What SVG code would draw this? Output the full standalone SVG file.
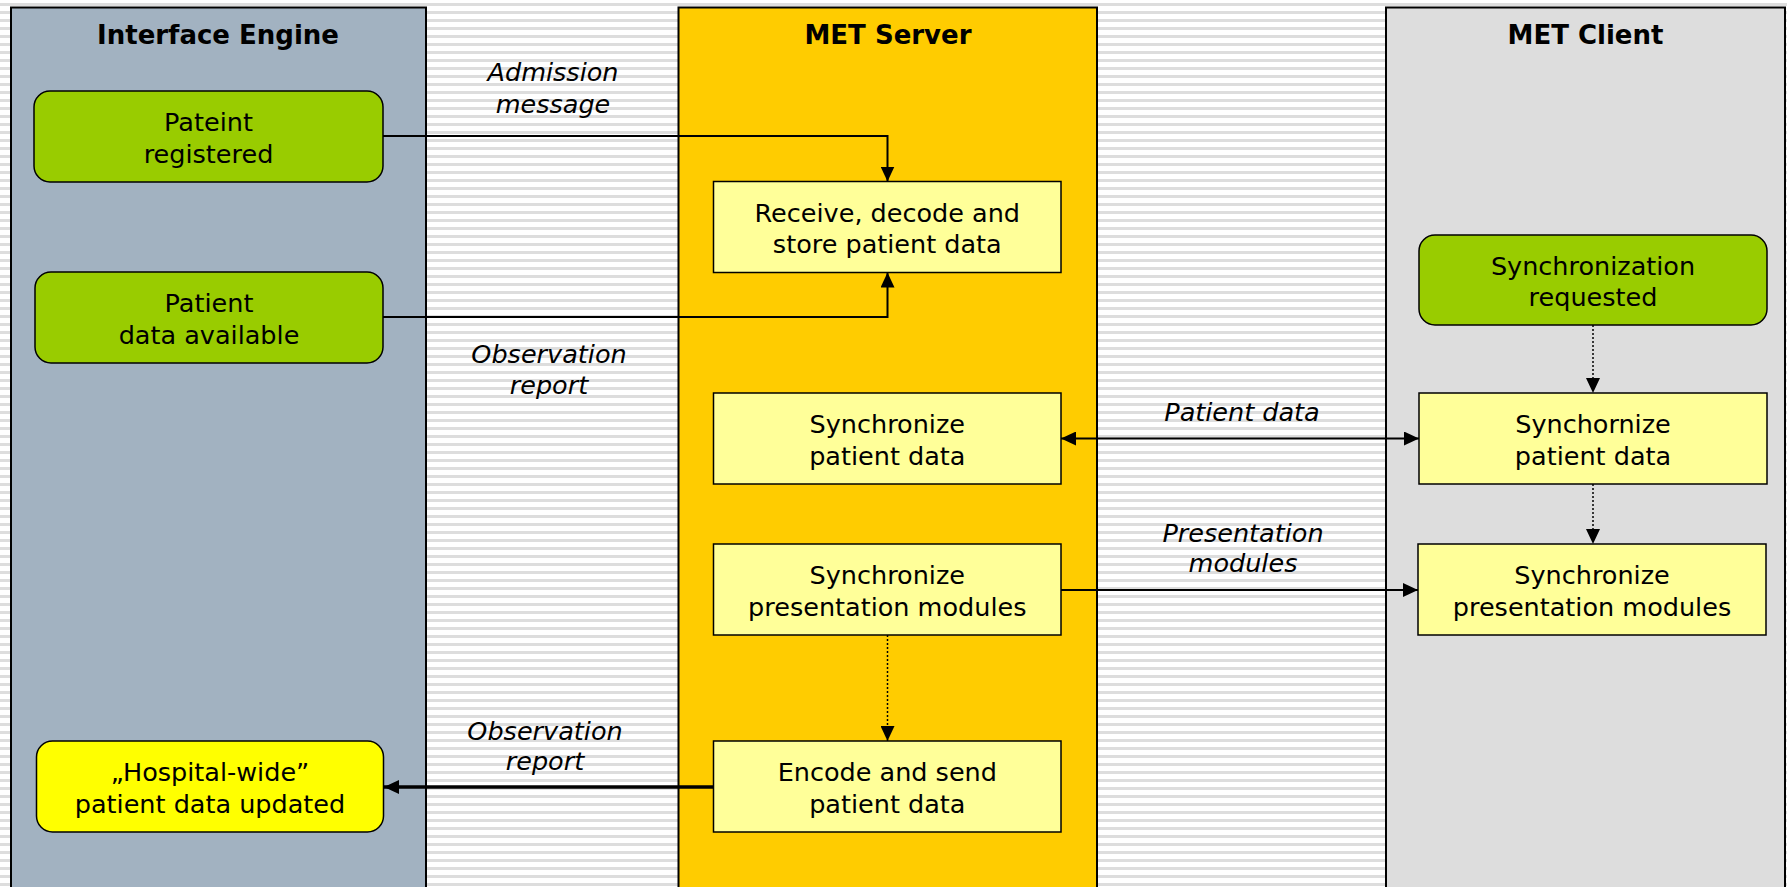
<svg xmlns="http://www.w3.org/2000/svg" width="1787" height="887" viewBox="0 0 1787 887">
<defs>
<pattern id="stripes" x="0" y="0" width="8" height="8" patternUnits="userSpaceOnUse">
<rect x="0" y="0" width="8" height="8" fill="#FFFFFF"/>
<rect x="0" y="3" width="8" height="3" fill="#DDDDDD"/>
</pattern>
<marker id="arr" viewBox="0 0 15 14" refX="15" refY="7" markerWidth="15" markerHeight="14" markerUnits="userSpaceOnUse" orient="auto-start-reverse">
<path d="M0,0 L15,7 L0,14 Z" fill="#000"/>
</marker>
</defs>
<style>
.lane{stroke:#000;stroke-width:2}
.title{font-family:"DejaVu Sans",Verdana,sans-serif;font-weight:bold;font-size:26px;text-anchor:middle;fill:#000}
.t{font-family:"DejaVu Sans",Verdana,sans-serif;font-size:25.5px;text-anchor:middle;fill:#000}
.lbl{font-family:"DejaVu Sans",Verdana,sans-serif;font-style:italic;font-size:25.5px;text-anchor:middle;fill:#000}
.green{fill:#99CC00;stroke:#000;stroke-width:1.5}
.box{fill:#FFFF99;stroke:#000;stroke-width:1.5}
.hosp{fill:#FFFF00;stroke:#000;stroke-width:1.5}
.c{fill:none;stroke:#000;stroke-width:2}
.d{fill:none;stroke:#000;stroke-width:1.5;stroke-dasharray:2,2}
.thick{fill:none;stroke:#000;stroke-width:3.5}
</style>
<rect x="0" y="0" width="1787" height="887" fill="url(#stripes)"/>
<g id="lane-interface">
<rect class="lane" x="11" y="7.5" width="415" height="890" fill="#A2B2C1"/>
<text class="title" x="218" y="44">Interface Engine</text>
</g>
<g id="lane-server">
<rect class="lane" x="678.5" y="7.5" width="418.5" height="890" fill="#FFCC00"/>
<text class="title" x="888" y="44">MET Server</text>
</g>
<g id="lane-client">
<rect class="lane" x="1386" y="7.5" width="399" height="890" fill="#DDDDDD"/>
<text class="title" x="1585.5" y="44">MET Client</text>
</g>
<g id="connectors">
<polyline class="c" points="383,136 887.5,136 887.5,181.5" marker-end="url(#arr)"/>
<polyline class="c" points="383,317 887.5,317 887.5,272.5" marker-end="url(#arr)"/>
<line class="c" x1="1061" y1="438.5" x2="1419" y2="438.5" marker-start="url(#arr)" marker-end="url(#arr)"/>
<line class="c" x1="1061" y1="590" x2="1418" y2="590" marker-end="url(#arr)"/>
<line class="d" x1="887.5" y1="635" x2="887.5" y2="741" marker-end="url(#arr)"/>
<line class="d" x1="1593" y1="325" x2="1593" y2="393" marker-end="url(#arr)"/>
<line class="d" x1="1593" y1="484" x2="1593" y2="544" marker-end="url(#arr)"/>
<line class="thick" x1="713.5" y1="787" x2="384" y2="787" marker-end="url(#arr)"/>
<text class="lbl" x="553" y="81">Admission</text>
<text class="lbl" x="553" y="113">message</text>
<text class="lbl" x="549" y="363">Observation</text>
<text class="lbl" x="549" y="394">report</text>
<text class="lbl" x="1242" y="421">Patient data</text>
<text class="lbl" x="1243" y="541.5">Presentation</text>
<text class="lbl" x="1243" y="572">modules</text>
<text class="lbl" x="545" y="740">Observation</text>
<text class="lbl" x="545" y="770">report</text>
</g>
<g id="n-pateint-registered">
<rect class="green" x="34" y="91" width="349" height="91" rx="16"/>
<text class="t" x="208.5" y="131">Pateint</text>
<text class="t" x="208.5" y="162.5">registered</text>
</g>
<g id="n-patient-data-available">
<rect class="green" x="35" y="272" width="348" height="91" rx="16"/>
<text class="t" x="209" y="312">Patient</text>
<text class="t" x="209" y="343.5">data available</text>
</g>
<g id="n-hospital-wide">
<rect class="hosp" x="36.5" y="741" width="347" height="91" rx="16"/>
<text class="t" x="210" y="781">„Hospital-wide”</text>
<text class="t" x="210" y="812.5">patient data updated</text>
</g>
<g id="n-receive">
<rect class="box" x="713.5" y="181.5" width="347.5" height="91"/>
<text class="t" x="887.3" y="221.5">Receive, decode and</text>
<text class="t" x="887.3" y="253">store patient data</text>
</g>
<g id="n-server-sync-patient">
<rect class="box" x="713.5" y="393" width="347.5" height="91"/>
<text class="t" x="887.3" y="433">Synchronize</text>
<text class="t" x="887.3" y="464.5">patient data</text>
</g>
<g id="n-server-sync-presentation">
<rect class="box" x="713.5" y="544" width="347.5" height="91"/>
<text class="t" x="887.3" y="584">Synchronize</text>
<text class="t" x="887.3" y="615.5">presentation modules</text>
</g>
<g id="n-encode">
<rect class="box" x="713.5" y="741" width="347.5" height="91"/>
<text class="t" x="887.3" y="781">Encode and send</text>
<text class="t" x="887.3" y="812.5">patient data</text>
</g>
<g id="n-sync-requested">
<rect class="green" x="1419" y="235" width="348" height="90" rx="16"/>
<text class="t" x="1593" y="274.5">Synchronization</text>
<text class="t" x="1593" y="306">requested</text>
</g>
<g id="n-client-sync-patient">
<rect class="box" x="1419" y="393" width="348" height="91"/>
<text class="t" x="1593" y="433">Synchornize</text>
<text class="t" x="1593" y="464.5">patient data</text>
</g>
<g id="n-client-sync-presentation">
<rect class="box" x="1418" y="544" width="348" height="91"/>
<text class="t" x="1592" y="584">Synchronize</text>
<text class="t" x="1592" y="615.5">presentation modules</text>
</g>
</svg>
